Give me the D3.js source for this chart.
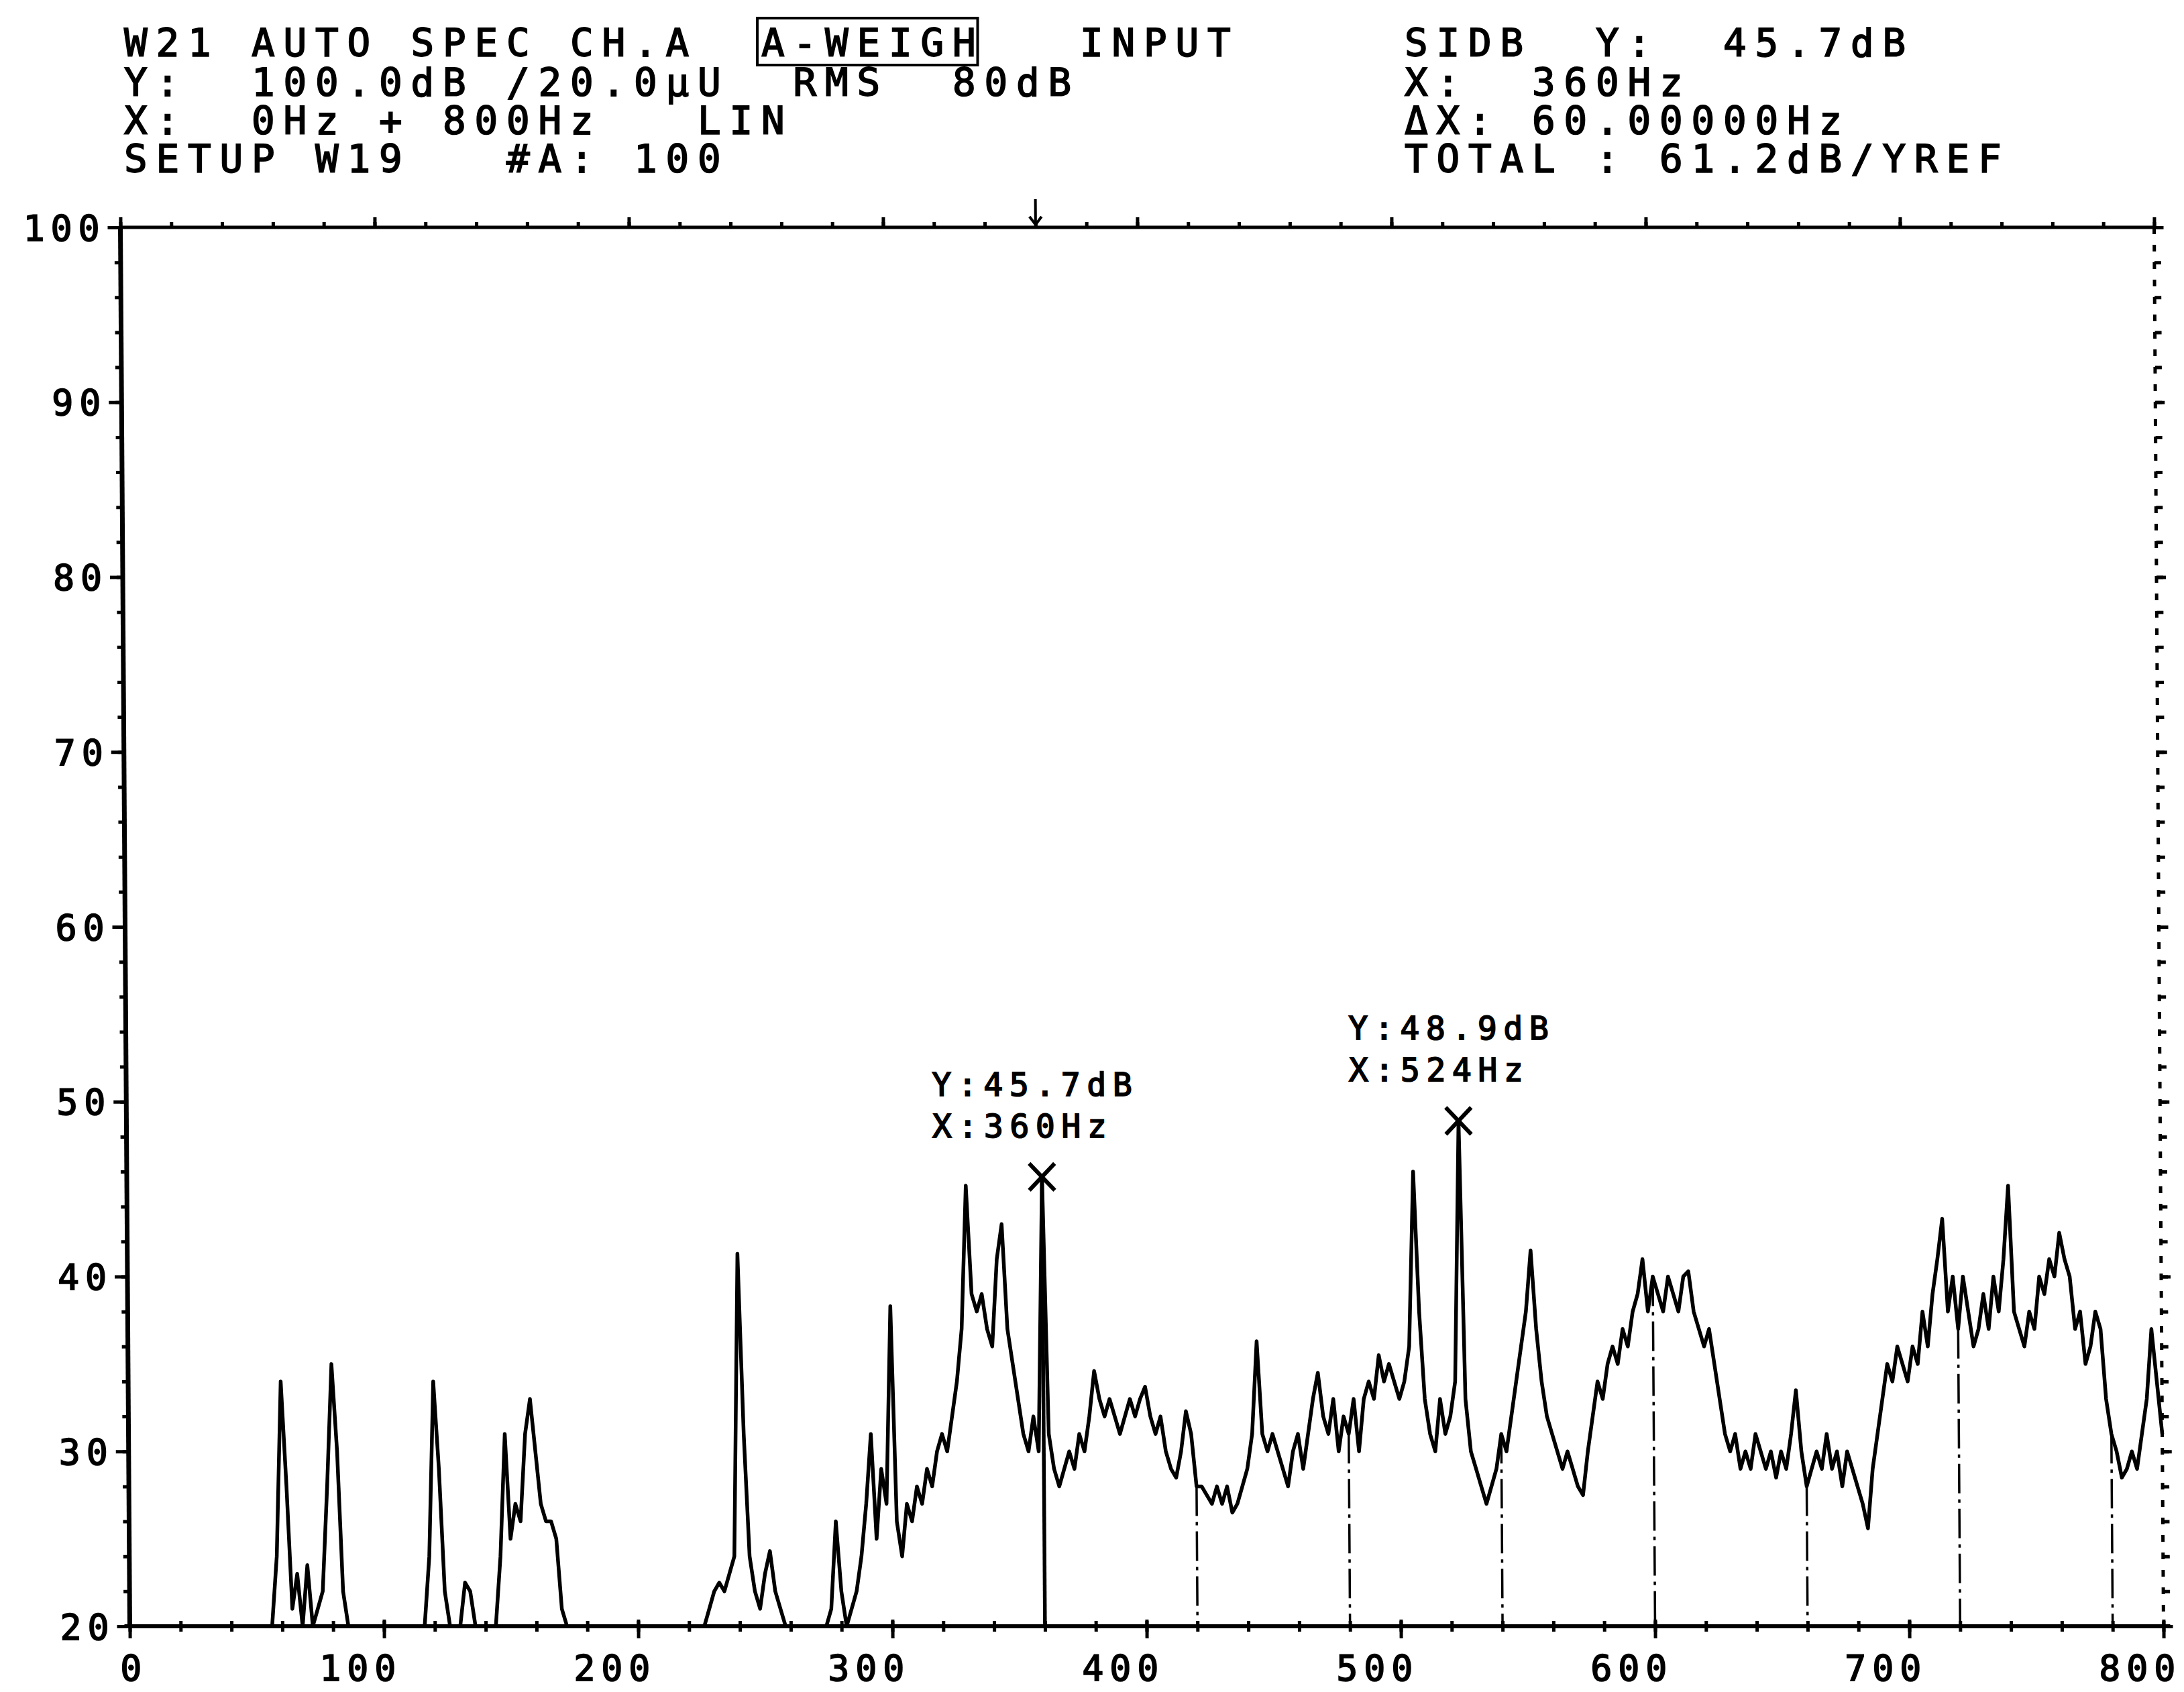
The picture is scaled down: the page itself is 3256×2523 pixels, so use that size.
<!DOCTYPE html>
<html>
<head>
<meta charset="utf-8">
<script src="https://cdn.jsdelivr.net/npm/d3@7"></script>
<style>
  html, body { margin: 0; padding: 0; background: #fff; }
  svg { display: block; }
  text { fill: #000; white-space: pre; }
</style>
</head>
<body>
<svg id="chart"></svg>
<script>
// ---- Analyzer readout -------------------------------------------------------
const headerLeft = [
  "W21 AUTO SPEC CH.A  A-WEIGH   INPUT",
  "Y:  100.0dB /20.0µU  RMS  80dB",
  "X:  0Hz + 800Hz   LIN",
  "SETUP W19   #A: 100"
];
const headerRight = [
  "SIDB  Y:  45.7dB",
  "X:  360Hz",
  "ΔX: 60.00000Hz",
  "TOTAL : 61.2dB/YREF"
];
const boxedWord = "A-WEIGH";

// ---- Axes -------------------------------------------------------------------
const xTicks = [0, 100, 200, 300, 400, 500, 600, 700, 800];
const yTicks = [20, 30, 40, 50, 60, 70, 80, 90, 100];
const xMinorStep = 20;   // Hz between small ticks
const yMinorStep = 2;    // dB between small ticks

// ---- Spectrum: A-weighted autospectrum, 2 Hz line spacing, 0..800 Hz (dB) ---
const startHz = 0;
const stepHz = 2;
const levels = [
  // 0-18
  20, 20, 20, 20, 20, 20, 20, 20, 20, 20,
  // 20-38
  20, 20, 20, 20, 20, 20, 20, 20, 20, 20,
  // 40-58
  20, 20, 20, 20, 20, 20, 20, 20, 20, 24,
  // 60-78
  34, 28, 21, 23, 20, 23.5, 20, 21, 22, 28,
  // 80-98
  35, 30, 22, 20, 20, 20, 20, 20, 20, 20,
  // 100-118
  20, 20, 20, 20, 20, 20, 20, 20, 20, 24,
  // 120-138
  34, 29, 22, 20, 20, 20, 22.5, 22, 20, 20,
  // 140-158
  20, 20, 20, 24, 31, 25, 27, 26, 31, 33,
  // 160-178
  30, 27, 26, 26, 25, 21, 20, 20, 20, 20,
  // 180-198
  20, 20, 20, 20, 20, 20, 20, 20, 20, 20,
  // 200-218
  20, 20, 20, 20, 20, 20, 20, 20, 20, 20,
  // 220-238
  20, 20, 20, 20, 21, 22, 22.5, 22, 23, 24,
  // 240-258
  41.3, 31, 24, 22, 21, 23, 24.3, 22, 21, 20,
  // 260-278
  20, 20, 20, 20, 20, 20, 20, 20, 21, 26,
  // 280-298
  22, 20, 21, 22, 24, 27, 31, 25, 29, 27,
  // 300-318
  38.3, 26, 24, 27, 26, 28, 27, 29, 28, 30,
  // 320-338
  31, 30, 32, 34, 37, 45.2, 39, 38, 39, 37,
  // 340-358
  36, 41, 43, 37, 35, 33, 31, 30, 32, 30,
  // 360-378
  45.7, 31, 29, 28, 29, 30, 29, 31, 30, 32,
  // 380-398
  34.6, 33, 32, 33, 32, 31, 32, 33, 32, 33,
  // 400-418
  33.7, 32, 31, 32, 30, 29, 28.5, 30, 32.3, 31,
  // 420-438
  28, 28, 27.5, 27, 28, 27, 28, 26.5, 27, 28,
  // 440-458
  29, 31, 36.3, 31, 30, 31, 30, 29, 28, 30,
  // 460-478
  31, 29, 31, 33, 34.5, 32, 31, 33, 30, 32,
  // 480-498
  31, 33, 30, 33, 34, 33, 35.5, 34, 35, 34,
  // 500-518
  33, 34, 36, 46, 38, 33, 31, 30, 33, 31,
  // 520-538
  32, 34, 48.9, 33, 30, 29, 28, 27, 28, 29,
  // 540-558
  31, 30, 32, 34, 36, 38, 41.5, 37, 34, 32,
  // 560-578
  31, 30, 29, 30, 29, 28, 27.5, 30, 32, 34,
  // 580-598
  33, 35, 36, 35, 37, 36, 38, 39, 41, 38,
  // 600-618
  40, 39, 38, 40, 39, 38, 40, 40.3, 38, 37,
  // 620-638
  36, 37, 35, 33, 31, 30, 31, 29, 30, 29,
  // 640-658
  31, 30, 29, 30, 28.5, 30, 29, 31, 33.5, 30,
  // 660-678
  28, 29, 30, 29, 31, 29, 30, 28, 30, 29,
  // 680-698
  28, 27, 25.6, 29, 31, 33, 35, 34, 36, 35,
  // 700-718
  34, 36, 35, 38, 36, 39, 41, 43.3, 38, 40,
  // 720-738
  37, 40, 38, 36, 37, 39, 37, 40, 38, 41,
  // 740-758
  45.2, 38, 37, 36, 38, 37, 40, 39, 41, 40,
  // 760-778
  42.5, 41, 40, 37, 38, 35, 36, 38, 37, 33,
  // 780-798
  31, 30, 28.5, 29, 30, 29, 31, 33, 37, 34,
  // 800
  31
];

// ---- Cursors ----------------------------------------------------------------
const mainCursorHz = 360;
const harmonicCursorsHz = [420, 480, 540, 600, 660, 720, 780];
const peakMarkers = [
  { hz: 360, db: 45.7 },
  { hz: 524, db: 48.9 }
];

// ---- Drawing ----------------------------------------------------------------
const W = 3256, H = 2523;
const MONO = '"DejaVu Sans Mono", "Liberation Mono", monospace';
const ADV = 0.602; // glyph advance of the mono face, in em

const svg = d3.select("#chart").attr("width", W).attr("height", H);
svg.append("rect").attr("width", W).attr("height", H).attr("fill", "#fff");

// fixed-pitch plotter lettering: every character cell is `pitch` wide
function mono(sel, size, pitch) {
  sel.attr("font-family", MONO)
    .attr("font-size", size)
    .attr("stroke", "#000").attr("stroke-width", 1.8)
    .attr("lengthAdjust", "spacing")
    .attr("textLength", function () {
      const n = this.textContent.length;
      return ((n - 1) * pitch + ADV * size).toFixed(2);
    });
  return sel;
}

// Header block
const HEAD_SIZE = 57.6, HEAD_PITCH = 47.5;
const headBaselines = [84, 143, 200, 257];
const leftX = 185, rightX = 2094;

headerLeft.forEach((s, i) => {
  svg.append("text").attr("x", leftX).attr("y", headBaselines[i]).text(s)
    .call(t => mono(t, HEAD_SIZE, HEAD_PITCH));
});
headerRight.forEach((s, i) => {
  svg.append("text").attr("x", rightX).attr("y", headBaselines[i]).text(s)
    .call(t => mono(t, HEAD_SIZE, HEAD_PITCH));
});
const boxIdx = headerLeft[0].indexOf(boxedWord);
svg.append("rect")
  .attr("x", leftX + boxIdx * HEAD_PITCH - 6)
  .attr("y", 27)
  .attr("width", boxedWord.length * HEAD_PITCH - 4)
  .attr("height", 70)
  .attr("fill", "none").attr("stroke", "#000").attr("stroke-width", 4);

// Plot frame (slightly sheared, as plotted)
const x = d3.scaleLinear().domain([0, 800]).range([186.5, 3218.5]);
const y = d3.scaleLinear().domain([20, 100]).range([2425, 339]).clamp(true);
const SHEAR = 0.0067;
const yMid = (339 + 2425) / 2;
const plot = svg.append("g")
  .attr("transform", `translate(${(-SHEAR * yMid).toFixed(2)},0) skewX(${(Math.atan(SHEAR) * 180 / Math.PI).toFixed(4)})`);

const x0 = x(0), x1 = x(800), yTop = y(100), yBot = y(20);

// axis lines
plot.append("line").attr("x1", x0).attr("x2", x0).attr("y1", yTop).attr("y2", yBot)
  .attr("stroke", "#000").attr("stroke-width", 7);
plot.append("line").attr("x1", x0).attr("x2", x1).attr("y1", yTop).attr("y2", yTop)
  .attr("stroke", "#000").attr("stroke-width", 5);
plot.append("line").attr("x1", x0 - 8).attr("x2", x1 + 10).attr("y1", yBot).attr("y2", yBot)
  .attr("stroke", "#000").attr("stroke-width", 6);
plot.append("line").attr("x1", x1).attr("x2", x1).attr("y1", yTop).attr("y2", yBot)
  .attr("stroke", "#000").attr("stroke-width", 5).attr("stroke-dasharray", "10 16");

const xMinor = d3.range(0, 800 + 1, xMinorStep);
const yMinor = d3.range(20, 100 + 1, yMinorStep);

function styleTicks(g, width) {
  g.select(".domain").remove();
  g.selectAll(".tick line").attr("stroke", "#000").attr("stroke-width", width);
}

const AX_SIZE = 53, AX_PITCH = 41;

// bottom: small ticks crossing the line, larger at labelled values
plot.append("g").attr("transform", `translate(0,${yBot})`)
  .call(d3.axisBottom(x).tickValues(xMinor).tickSize(8).tickSizeOuter(0).tickFormat(""))
  .call(g => { styleTicks(g, 5); g.selectAll(".tick line").attr("y1", -8); });

plot.append("g").attr("transform", `translate(0,${yBot})`)
  .call(d3.axisBottom(x).tickValues(xTicks).tickSize(18).tickSizeOuter(0).tickFormat(d3.format("d")))
  .call(g => {
    styleTicks(g, 5);
    g.selectAll(".tick line").attr("y1", -10);
    // labels are right-set so that their last digit sits on the tick
    g.selectAll(".tick text")
      .call(t => mono(t, AX_SIZE, AX_PITCH))
      .attr("text-anchor", "end")
      .attr("x", (ADV * AX_SIZE / 2 + 1).toFixed(2))
      .attr("y", 81).attr("dy", 0)
      .attr("fill", "#000");
  });

// top: short upward ticks
plot.append("g").attr("transform", `translate(0,${yTop})`)
  .call(d3.axisTop(x).tickValues(xMinor).tickSize(8).tickSizeOuter(0).tickFormat(""))
  .call(g => styleTicks(g, 5));
plot.append("g").attr("transform", `translate(0,${yTop})`)
  .call(d3.axisTop(x).tickValues(xTicks).tickSize(15).tickSizeOuter(0).tickFormat(""))
  .call(g => styleTicks(g, 5));

// left: outward ticks with labels
plot.append("g").attr("transform", `translate(${x0},0)`)
  .call(d3.axisLeft(y).tickValues(yMinor).tickSize(9).tickSizeOuter(0).tickFormat(""))
  .call(g => styleTicks(g, 5));
plot.append("g").attr("transform", `translate(${x0},0)`)
  .call(d3.axisLeft(y).tickValues(yTicks).tickSize(19).tickSizeOuter(0).tickFormat(d3.format("d")))
  .call(g => {
    styleTicks(g, 5);
    g.selectAll(".tick text")
      .call(t => mono(t, AX_SIZE, AX_PITCH))
      .attr("text-anchor", "end")
      .attr("x", -31).attr("dy", "0.36em")
      .attr("fill", "#000");
  });

// right: dotted edge with outward ticks
plot.append("g").attr("transform", `translate(${x1},0)`)
  .call(d3.axisRight(y).tickValues(yMinor).tickSize(10).tickSizeOuter(0).tickFormat(""))
  .call(g => styleTicks(g, 5));
plot.append("g").attr("transform", `translate(${x1},0)`)
  .call(d3.axisRight(y).tickValues(yTicks).tickSize(14).tickSizeOuter(0).tickFormat(""))
  .call(g => styleTicks(g, 5));

// Spectrum trace
const levelAt = hz => levels[Math.round((hz - startHz) / stepHz)];
const line = d3.line()
  .x((d, i) => x(startHz + i * stepHz))
  .y(d => y(d));
plot.append("path").datum(levels)
  .attr("d", line)
  .attr("fill", "none").attr("stroke", "#000")
  .attr("stroke-width", 5.5).attr("stroke-linejoin", "round");

// Harmonic cursor lines (dash-dot) and main cursor (solid)
plot.selectAll(".harm").data(harmonicCursorsHz).join("line")
  .attr("class", "harm")
  .attr("x1", d => x(d)).attr("x2", d => x(d))
  .attr("y1", d => y(levelAt(d))).attr("y2", yBot)
  .attr("stroke", "#000").attr("stroke-width", 3.5)
  .attr("stroke-dasharray", "44 9 5 9");
plot.append("line")
  .attr("x1", x(mainCursorHz)).attr("x2", x(mainCursorHz))
  .attr("y1", y(levelAt(mainCursorHz))).attr("y2", yBot)
  .attr("stroke", "#000").attr("stroke-width", 5.5);

// Cursor arrow above the frame
const ax = x(mainCursorHz);
plot.append("path")
  .attr("d", `M${ax},${yTop - 42} L${ax},${yTop - 4} M${ax - 9},${yTop - 16} L${ax},${yTop - 4} L${ax + 9},${yTop - 16}`)
  .attr("fill", "none").attr("stroke", "#000").attr("stroke-width", 4);

// Peak markers with readouts
const ANN_SIZE = 48, ANN_PITCH = 38.5;
const mk = plot.selectAll(".mk").data(peakMarkers).join("g").attr("class", "mk")
  .attr("transform", d => `translate(${x(d.hz)},${y(d.db)})`);
mk.append("path")
  .attr("d", "M-19,-20 L19,20 M19,-20 L-19,20")
  .attr("fill", "none").attr("stroke", "#000").attr("stroke-width", 6);
mk.append("text")
  .attr("x", -163).attr("y", -121)
  .text(d => `Y:${d.db.toFixed(1)}dB`)
  .call(t => mono(t, ANN_SIZE, ANN_PITCH));
mk.append("text")
  .attr("x", -163).attr("y", -59)
  .text(d => `X:${d.hz}Hz`)
  .call(t => mono(t, ANN_SIZE, ANN_PITCH));
</script>
</body>
</html>
